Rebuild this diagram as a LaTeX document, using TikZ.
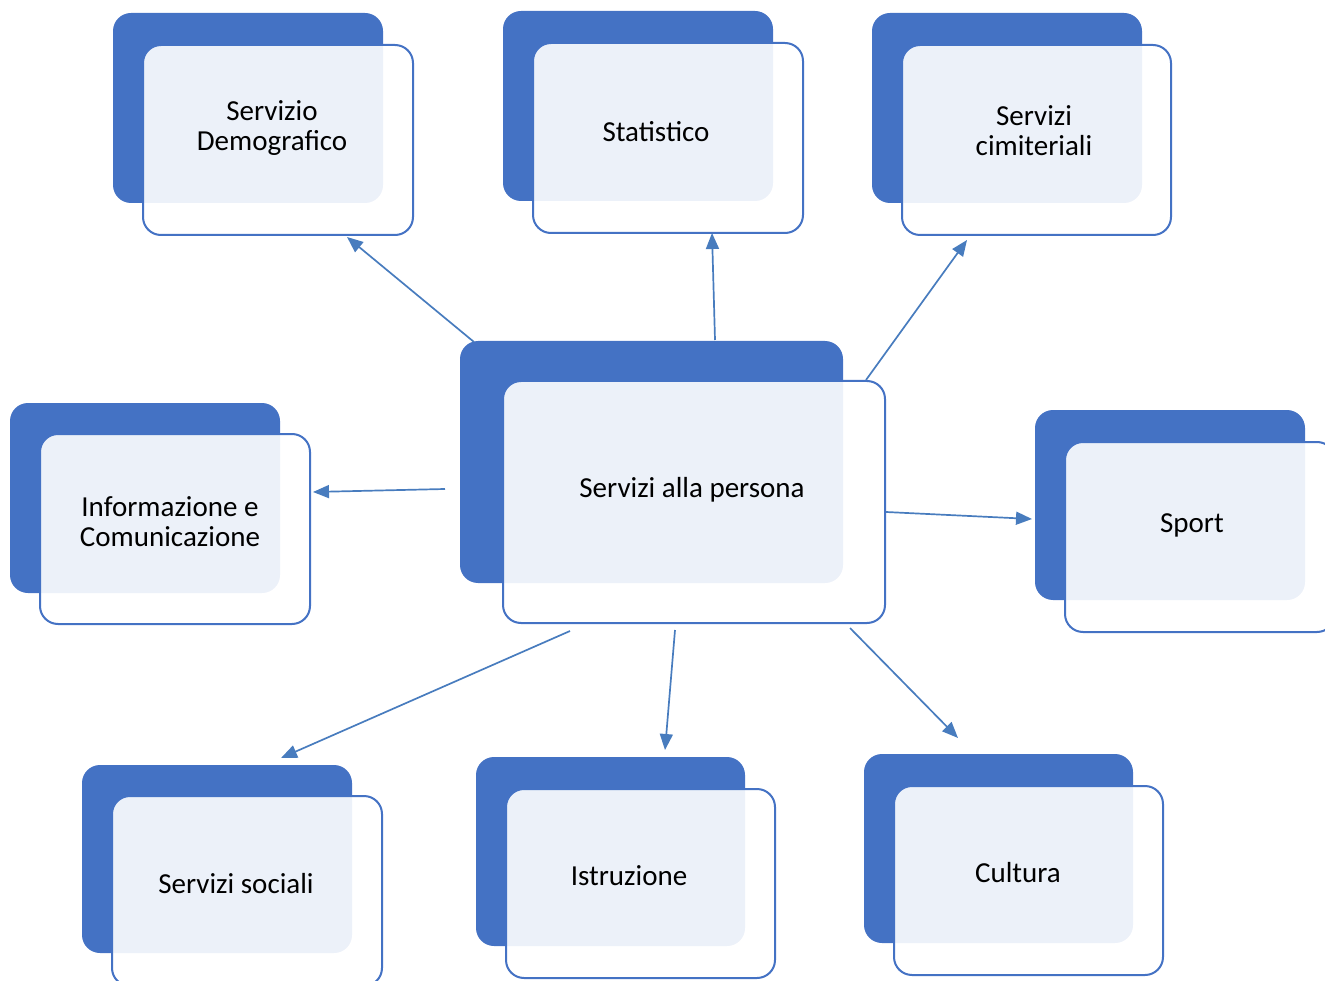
\documentclass[tikz,border=0pt]{standalone}
\usepackage{fontspec}
\setmainfont{Carlito}
\usetikzlibrary{arrows.meta}
\definecolor{boxblue}{RGB}{68,114,196}
\definecolor{arrblue}{RGB}{72,124,190}
\tikzset{
  backbox/.style={rectangle, rounded corners=18pt, fill=boxblue, draw=none, inner sep=0pt},
  frontbox/.style={rectangle, rounded corners=18pt, fill=white, fill opacity=0.9, draw=boxblue, draw opacity=1, line width=2pt, inner sep=0pt},
  lbl/.style={align=center, font=\fontsize{29}{30}\selectfont, text=black, inner sep=0pt},
  conn/.style={draw=arrblue, line width=1.7pt, -{Triangle[length=16pt,width=13pt]}}
}
\begin{document}
\begin{tikzpicture}[x=1pt,y=-1pt]
\useasboundingbox (0,0) rectangle (1325,981);
\clip (0,0) rectangle (1325,981);
% Servizio Demografico
\node[backbox, minimum width=270pt, minimum height=190pt] (b1) at (248,108) {};
\node[frontbox, minimum width=270pt, minimum height=190pt] (f1) at (278,140) {};
\node[lbl] (t1) at (272,128) {Servizio\\Demografico};
% Statistico
\node[backbox, minimum width=270pt, minimum height=190pt] (b2) at (638,106) {};
\node[frontbox, minimum width=270pt, minimum height=190pt] (f2) at (668,138) {};
\node[lbl] (t2) at (656,132) {Statistico};
% Servizi cimiteriali
\node[backbox, minimum width=270pt, minimum height=190pt] (b3) at (1007,108) {};
\node[frontbox, minimum width=269pt, minimum height=190pt] (f3) at (1036.5,140) {};
\node[lbl] (t3) at (1034,131) {Servizi\\cimiteriali};
% Informazione e Comunicazione
\node[backbox, minimum width=270pt, minimum height=190pt] (b4) at (145,498) {};
\node[frontbox, minimum width=270pt, minimum height=190pt] (f4) at (175,529) {};
\node[lbl] (t4) at (170,522) {Informazione e\\Comunicazione};
% Center
\node[backbox, minimum width=383pt, minimum height=242pt] (b5) at (651.5,462) {};
\node[frontbox, minimum width=382pt, minimum height=242pt] (f5) at (694,502) {};
\node[lbl] (t5) at (692,490) {Servizi alla persona};
% Sport
\node[backbox, minimum width=270pt, minimum height=190pt] (b6) at (1170,505) {};
\node[frontbox, minimum width=270pt, minimum height=190pt] (f6) at (1200,537) {};
\node[lbl] (t6) at (1192,525) {Sport};
% Servizi sociali
\node[backbox, minimum width=270pt, minimum height=188pt] (b7) at (217,859) {};
\node[frontbox, minimum width=270pt, minimum height=190pt] (f7) at (247,891) {};
\node[lbl] (t7) at (236,884) {Servizi sociali};
% Istruzione
\node[backbox, minimum width=269pt, minimum height=189pt] (b8) at (610.5,851.5) {};
\node[frontbox, minimum width=269pt, minimum height=189pt] (f8) at (640.5,883.5) {};
\node[lbl] (t8) at (629,876) {Istruzione};
% Cultura
\node[backbox, minimum width=269pt, minimum height=189pt] (b9) at (998.5,848.5) {};
\node[frontbox, minimum width=269pt, minimum height=189pt] (f9) at (1028.5,880.5) {};
\node[lbl] (t9) at (1018,873) {Cultura};
% connector end points
\coordinate (s1) at (474,342); \coordinate (e1) at (347,237);
\coordinate (s2) at (715,340); \coordinate (e2) at (712,233);
\coordinate (s3) at (866,380); \coordinate (e3) at (967,240);
\coordinate (s4) at (445,489); \coordinate (e4) at (313,492);
\coordinate (s6) at (886,512); \coordinate (e6) at (1032,519);
\coordinate (s7) at (570,631); \coordinate (e7) at (281,758);
\coordinate (s8) at (675,630); \coordinate (e8) at (665,750);
\coordinate (s9) at (850,628); \coordinate (e9) at (958,738);
\draw[conn] (s1) -- (e1);
\draw[conn] (s2) -- (e2);
\draw[conn] (s3) -- (e3);
\draw[conn] (s4) -- (e4);
\draw[conn] (s6) -- (e6);
\draw[conn] (s7) -- (e7);
\draw[conn] (s8) -- (e8);
\draw[conn] (s9) -- (e9);
\end{tikzpicture}
\end{document}
